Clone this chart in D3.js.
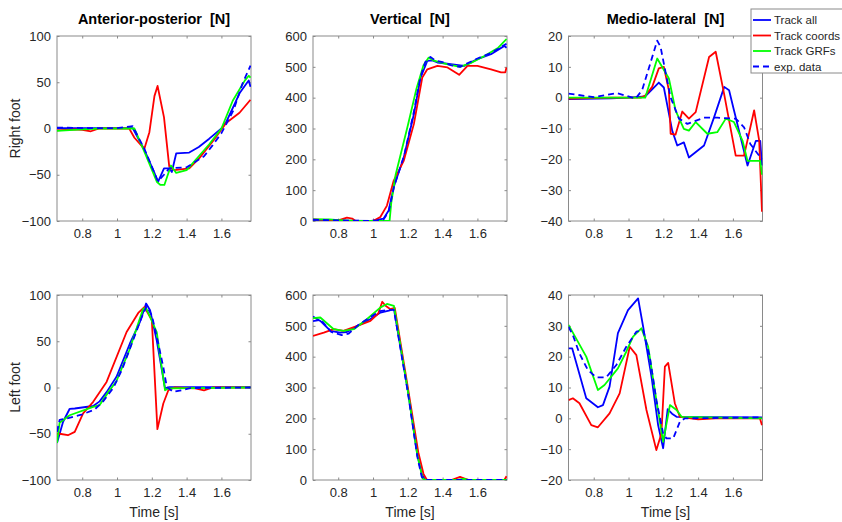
<!DOCTYPE html>
<html>
<head>
<meta charset="utf-8">
<script src="https://cdn.jsdelivr.net/npm/d3@7"></script>
<style>
  html, body { margin: 0; padding: 0; background: #fff; }
  svg { display: block; font-family: "Liberation Sans", Arial, sans-serif; }
</style>
</head>
<body>
<svg id="chart" width="842" height="522"></svg>
<script>
// time [s], force [N]
const apRightAll = [[0.655,0.5],[1.0,0.5],[1.09,0.5],[1.157,-23],[1.215,-48],[1.235,-58],[1.27,-43],[1.3,-43],[1.315,-47],[1.34,-27],[1.415,-26],[1.47,-20],[1.53,-11],[1.6,0],[1.627,7],[1.66,20],[1.704,38],[1.742,48],[1.757,52],[1.767,45]];
const apRightCoords = [[0.655,-2],[0.75,-1],[0.8,-1.5],[0.85,-3],[0.88,-1],[0.9,0],[1.07,0],[1.1,-10],[1.157,-22],[1.186,-4],[1.215,35],[1.233,46],[1.27,12],[1.3,-41],[1.33,-45],[1.415,-43],[1.473,-32],[1.57,-9],[1.627,6],[1.704,17],[1.767,31]];
const apRightGrfs = [[0.655,-2.5],[0.8,-1],[0.9,0],[1.1,0],[1.157,-25],[1.23,-58],[1.25,-61],[1.272,-61],[1.31,-40],[1.34,-48],[1.4,-45],[1.47,-30],[1.53,-17],[1.6,0],[1.665,30],[1.735,52],[1.757,57],[1.767,55]];
const apRightExp = [[0.655,1],[0.8,0.5],[1.0,0.5],[1.07,2],[1.09,2.5],[1.157,-22],[1.235,-57],[1.27,-50],[1.3,-43],[1.4,-42],[1.5,-30],[1.55,-18],[1.6,-5],[1.67,20],[1.72,48],[1.767,68]];

const vRightAll = [[0.655,2],[0.8,1],[0.99,0],[1.061,8],[1.09,34],[1.119,110],[1.177,207],[1.235,347],[1.273,465],[1.312,519],[1.341,521],[1.37,514],[1.447,509],[1.524,503],[1.6,525],[1.678,541],[1.755,568],[1.767,562]];
const vRightCoords = [[0.655,5],[0.8,2],[0.85,11],[0.88,8],[0.9,0],[1.0,0],[1.042,13],[1.08,50],[1.119,131],[1.177,196],[1.235,315],[1.283,465],[1.312,492],[1.37,503],[1.428,498],[1.495,474],[1.543,503],[1.6,503],[1.678,492],[1.736,482],[1.76,482],[1.767,498]];
const vRightGrfs = [[0.655,5],[0.75,5],[0.8,3],[0.9,0],[1.095,0],[1.105,60],[1.13,150],[1.2,310],[1.25,430],[1.29,505],[1.32,530],[1.35,520],[1.43,508],[1.5,500],[1.56,512],[1.64,535],[1.72,562],[1.767,590]];
const vRightExp = [[0.655,4],[0.8,2],[1.0,0],[1.06,5],[1.09,30],[1.12,110],[1.18,215],[1.235,355],[1.27,460],[1.3,515],[1.33,532],[1.36,520],[1.4,515],[1.45,505],[1.5,500],[1.6,527],[1.68,545],[1.767,575]];

const mlRightAll = [[0.655,-0.5],[0.9,-0.2],[1.0,0],[1.096,0.4],[1.174,4.9],[1.203,3.3],[1.251,-10.7],[1.28,-15.5],[1.318,-14.5],[1.347,-19.4],[1.434,-15.5],[1.492,-6.3],[1.55,3.5],[1.578,2.4],[1.606,-4.1],[1.684,-22],[1.732,-14],[1.757,-14],[1.767,-22]];
const mlRightCoords = [[0.655,-0.3],[0.9,0],[1.07,0],[1.096,0.7],[1.136,3.5],[1.174,9.5],[1.203,10],[1.232,2.4],[1.242,-11.7],[1.27,-12],[1.309,-4.5],[1.347,-6.8],[1.386,-4.7],[1.463,13.2],[1.501,14.9],[1.549,1.3],[1.616,-18.8],[1.664,-18.8],[1.722,-4.1],[1.751,-13.9],[1.767,-37]];
const mlRightGrfs = [[0.655,0],[1.096,0],[1.165,12.7],[1.232,6.2],[1.27,-4.1],[1.318,-10.1],[1.347,-10.7],[1.386,-7.9],[1.453,-11.7],[1.51,-11.2],[1.559,-6.8],[1.606,-7.9],[1.655,-13.9],[1.684,-20.5],[1.757,-20.5],[1.767,-25]];
const mlRightExp = [[0.655,1.3],[0.8,0.2],[0.934,1.5],[1.04,-0.3],[1.078,2.4],[1.165,18.5],[1.184,16.5],[1.241,0.2],[1.29,-6.8],[1.338,-8.5],[1.434,-6.5],[1.51,-6.5],[1.616,-6.8],[1.664,-9.6],[1.7,-15],[1.74,-18],[1.767,-20]];

const apLeftAll = [[0.655,-60],[0.69,-37],[0.728,-23],[0.757,-22.7],[0.863,-20],[0.9,-15],[0.94,-5],[0.997,11.5],[1.074,47.6],[1.132,71],[1.167,90.8],[1.19,83.6],[1.228,51],[1.276,-1],[1.3,0.5],[1.767,0.5]];
const apLeftCoords = [[0.655,-50],[0.67,-50],[0.718,-51.6],[0.757,-48],[0.805,-28],[0.863,-15.5],[0.94,6],[1.055,60],[1.122,80.6],[1.157,87],[1.2,72.8],[1.232,-45],[1.266,-17.3],[1.295,-3],[1.33,0],[1.45,-1],[1.5,-3],[1.55,0],[1.767,0]];
const apLeftGrfs = [[0.655,-60],[0.67,-38],[0.728,-30],[0.863,-21],[0.9,-19],[0.95,-5],[0.997,7],[1.07,40],[1.15,85],[1.167,86],[1.228,60],[1.276,-3],[1.295,-1],[1.767,0]];
const apLeftExp = [[0.655,-48],[0.67,-35],[0.72,-33],[0.8,-29],[0.87,-24],[0.92,-15],[0.98,0],[1.03,20],[1.09,50],[1.14,75],[1.17,88],[1.2,78],[1.24,45],[1.266,22],[1.286,0.6],[1.324,-4.7],[1.372,-3],[1.42,-0.6],[1.767,0]];

const vLeftAll = [[0.655,530],[0.697,516],[0.755,484],[0.812,478],[0.85,480],[0.91,500],[0.985,522],[1.043,543],[1.091,549],[1.12,555],[1.2,290],[1.255,80],[1.28,20],[1.3,0],[1.767,0]];
const vLeftCoords = [[0.655,467],[0.717,478],[0.774,489],[0.83,484],[0.91,500],[0.985,516],[1.03,540],[1.053,578],[1.072,565],[1.1,554],[1.125,558],[1.2,300],[1.26,90],[1.29,20],[1.31,0],[1.45,0],[1.5,10],[1.55,0],[1.755,0],[1.767,12]];
const vLeftGrfs = [[0.655,525],[0.697,527],[0.774,489],[0.83,484],[0.89,489],[0.966,522],[1.043,560],[1.08,571],[1.12,565],[1.2,290],[1.255,80],[1.285,5],[1.3,0],[1.48,0],[1.52,4],[1.55,0],[1.767,0]];
const vLeftExp = [[0.655,515],[0.7,520],[0.76,480],[0.82,470],[0.86,475],[0.92,505],[0.99,530],[1.04,548],[1.09,552],[1.12,552],[1.2,285],[1.255,75],[1.28,10],[1.3,0],[1.767,0]];

const mlLeftAll = [[0.655,22.7],[0.676,22.7],[0.757,6.5],[0.824,3.6],[0.853,4.3],[0.891,10.3],[0.939,27.6],[0.997,35.1],[1.055,38.9],[1.084,29.7],[1.132,13.5],[1.17,-2.2],[1.199,-9.7],[1.225,3],[1.25,1.5],[1.276,0.5],[1.767,0.3]];
const mlLeftCoords = [[0.655,5.9],[0.68,6.5],[0.718,4.9],[0.786,-2.2],[0.824,-2.9],[0.891,1.6],[0.949,8.1],[1.007,23.2],[1.045,20.5],[1.103,2.7],[1.16,-10.3],[1.189,-4.9],[1.209,16.8],[1.228,18],[1.266,4.9],[1.295,0.5],[1.4,-0.3],[1.5,0],[1.755,0],[1.767,-2.2]];
const mlLeftGrfs = [[0.655,30.3],[0.757,20],[0.824,9.2],[0.862,10.8],[0.939,16.2],[0.987,21.6],[1.026,26.5],[1.074,29.2],[1.113,23.2],[1.16,5.9],[1.199,-7.6],[1.238,4.3],[1.276,2.7],[1.305,0.5],[1.767,0]];
const mlLeftExp = [[0.655,29.7],[0.68,27],[0.718,21],[0.766,15.7],[0.814,13.3],[0.872,13.3],[0.93,17.3],[0.987,23.2],[1.045,28.1],[1.084,28.6],[1.122,20],[1.16,5.9],[1.199,-4.9],[1.218,-6.5],[1.257,-6.5],[1.295,-1.1],[1.324,0],[1.767,0.3]];

const seriesNames = ['Track all', 'Track coords', 'Track GRFs', 'exp. data'];
const seriesColors = ['#0000ff', '#ff0000', '#00ff00', '#0000ff'];
const seriesDash = [null, null, null, '6,4'];
const timeDomain = [0.655, 1.77];
const timeTicks = [0.8, 1, 1.2, 1.4, 1.6];
const colTitles = ['Anterior-posterior  [N]', 'Vertical  [N]', 'Medio-lateral  [N]'];
const rowLabels = ['Right foot', 'Left foot'];
const yDomains = [[[-100, 100], [0, 600], [-40, 20]], [[-100, 100], [0, 600], [-20, 40]]];
const yTicks = [
  [[-100, -50, 0, 50, 100], [0, 100, 200, 300, 400, 500, 600], [-40, -30, -20, -10, 0, 10, 20]],
  [[-100, -50, 0, 50, 100], [0, 100, 200, 300, 400, 500, 600], [-20, -10, 0, 10, 20, 30, 40]]
];
const panels = [
  [[apRightAll, apRightCoords, apRightGrfs, apRightExp], [vRightAll, vRightCoords, vRightGrfs, vRightExp], [mlRightAll, mlRightCoords, mlRightGrfs, mlRightExp]],
  [[apLeftAll, apLeftCoords, apLeftGrfs, apLeftExp], [vLeftAll, vLeftCoords, vLeftGrfs, vLeftExp], [mlLeftAll, mlLeftCoords, mlLeftGrfs, mlLeftExp]]
];

const svg = d3.select('#chart');
const colX = [57, 313, 568.5], rowY = [36, 295];
const PW = 194, PH = 185;
const AXIS = '#8a8a8a', TXT = '#262626';

panels.forEach((row, r) => {
  row.forEach((series, c) => {
    const g = svg.append('g').attr('transform', `translate(${colX[c]},${rowY[r]})`);
    const x = d3.scaleLinear().domain(timeDomain).range([0, PW]);
    const y = d3.scaleLinear().domain(yDomains[r][c]).range([PH, 0]);
    const clipId = `clip-${r}-${c}`;
    g.append('clipPath').attr('id', clipId).append('rect').attr('width', PW).attr('height', PH);

    // axes (MATLAB style: ticks inward, box on)
    const xb = g.append('g').attr('transform', `translate(0,${PH})`)
      .call(d3.axisBottom(x).tickValues(timeTicks).tickSize(-2.5).tickPadding(8).tickFormat(d3.format('~g')));
    const xt = g.append('g').call(d3.axisTop(x).tickValues(timeTicks).tickSize(-2.5).tickFormat(''));
    const yl = g.append('g').call(d3.axisLeft(y).tickValues(yTicks[r][c]).tickSize(-2.5).tickPadding(6));
    const yr = g.append('g').attr('transform', `translate(${PW},0)`)
      .call(d3.axisRight(y).tickValues(yTicks[r][c]).tickSize(-2.5).tickFormat(''));
    [xb, xt, yl, yr].forEach(a => {
      a.select('.domain').remove();
      a.selectAll('line').attr('stroke', AXIS);
      a.selectAll('text').attr('fill', TXT).attr('font-size', 13).attr('font-family', '"Liberation Sans", Arial, sans-serif');
    });
    g.append('rect').attr('width', PW).attr('height', PH).attr('fill', 'none').attr('stroke', AXIS).attr('stroke-width', 1);

    const line = d3.line().x(d => x(d[0])).y(d => y(d[1]));
    const lines = g.append('g').attr('clip-path', `url(#${clipId})`);
    series.forEach((pts, i) => {
      lines.append('path')
        .attr('d', line(pts))
        .attr('fill', 'none')
        .attr('stroke', seriesColors[i])
        .attr('stroke-width', 1.8)
        .attr('stroke-dasharray', seriesDash[i])
        .attr('stroke-linejoin', 'round');
    });

    if (r === 0) {
      g.append('text').attr('x', PW / 2).attr('y', -12).attr('text-anchor', 'middle')
        .style('white-space', 'pre')
        .attr('font-size', 14.5).attr('font-weight', 'bold').attr('fill', '#000').text(colTitles[c]);
    }
    if (r === 1) {
      g.append('text').attr('x', PW / 2).attr('y', PH + 37).attr('text-anchor', 'middle')
        .attr('font-size', 14).attr('fill', TXT).text('Time [s]');
    }
    if (c === 0) {
      g.append('text').attr('transform', `translate(${-37},${PH / 2}) rotate(-90)`).attr('text-anchor', 'middle')
        .attr('font-size', 14).attr('fill', TXT).text(rowLabels[r]);
    }
  });
});

// legend, overlapping the top-right corner of the last panel
const lg = svg.append('g').attr('transform', 'translate(751,9)');
lg.append('rect').attr('width', 100).attr('height', 64).attr('fill', '#fff').attr('stroke', AXIS);
seriesNames.forEach((name, i) => {
  const yy = 11 + i * 15.5;
  lg.append('line').attr('x1', 2).attr('x2', 20).attr('y1', yy).attr('y2', yy)
    .attr('stroke', seriesColors[i]).attr('stroke-width', 1.8).attr('stroke-dasharray', seriesDash[i]);
  lg.append('text').attr('x', 23).attr('y', yy + 4).attr('font-size', 11.5).attr('fill', TXT).text(name);
});
</script>
</body>
</html>
